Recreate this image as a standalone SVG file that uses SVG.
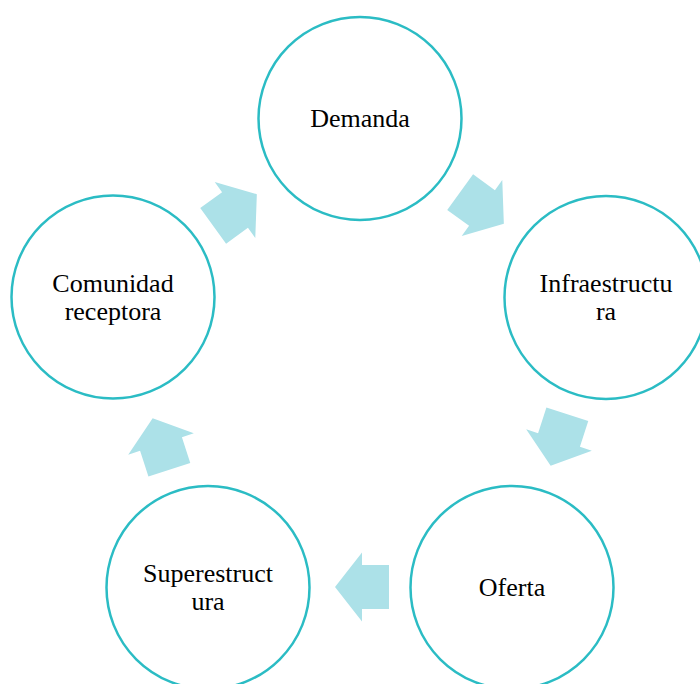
<svg xmlns="http://www.w3.org/2000/svg" width="700" height="684" viewBox="0 0 700 684">
<style>
.node circle{fill:#fff;stroke:#2BBCC4;stroke-width:2.5}
.node text{font-family:"Liberation Serif","Times New Roman",serif;font-size:26px;fill:#000;text-anchor:middle}
.arr{fill:#ACE1E8}
</style>
<defs>
<path id="ar" d="M-27,-22 L0,-22 L0,-34.5 L27,0 L0,34.5 L0,22 L-27,22 Z"/>
</defs>
<rect width="700" height="684" fill="#fff"/>
<g id="connectors">
<use href="#ar" class="arr" transform="translate(482,208) rotate(36)"/>
<use href="#ar" class="arr" transform="translate(559,440) rotate(108)"/>
<use href="#ar" class="arr" transform="translate(362,587) rotate(180)"/>
<use href="#ar" class="arr" transform="translate(161,444) rotate(252)"/>
<use href="#ar" class="arr" transform="translate(235,210) rotate(324)"/>
</g>
<g id="demanda" class="node"><circle cx="360" cy="118.5" r="101.5"/><text x="360" y="127">Demanda</text></g>
<g id="infraestructura" class="node"><circle cx="606" cy="297.5" r="101.5"/><text x="606" y="292">Infraestructu</text><text x="606" y="320">ra</text></g>
<g id="oferta" class="node"><circle cx="512" cy="587.5" r="101.5"/><text x="512" y="596">Oferta</text></g>
<g id="superestructura" class="node"><circle cx="208" cy="587.5" r="101.5"/><text x="208" y="582">Superestruct</text><text x="208" y="610">ura</text></g>
<g id="comunidad" class="node"><circle cx="113" cy="297" r="101.5"/><text x="113" y="292">Comunidad</text><text x="113" y="320">receptora</text></g>
</svg>
